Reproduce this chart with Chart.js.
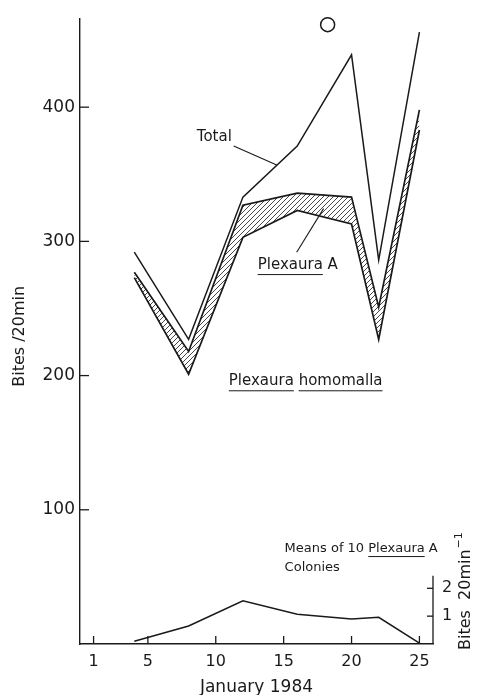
<!DOCTYPE html>
<html>
<head>
<meta charset="utf-8">
<script src="https://cdn.jsdelivr.net/npm/chart.js@4/dist/chart.umd.min.js"></script>
<style>
  html, body { margin: 0; padding: 0; background: #fff; }
  #wrap { width: 477px; height: 695px; position: relative; }
</style>
</head>
<body>
<div id="wrap"><canvas id="c"></canvas></div>
<script>
// Sampling days in January 1984
const days = [4, 8, 12, 16, 20, 22, 25];
// Total bites per 20 min
const totalBites = [292, 227, 333, 371, 439, 286, 456];
// Bites on Plexaura homomalla (lower edge of the hatched band)
const homomallaBites = [273, 201, 303, 323, 313, 227, 383];
// Upper edge of the hatched band (adding bites on Plexaura A)
const plexauraATop = [277, 218, 327, 336, 333, 251, 398];
// Means of 10 Plexaura A colonies, bites per 20 min
const meanBitesA = [0.1, 0.65, 1.55, 1.07, 0.9, 0.96, 0.03];
// Axis tick values
const dayTicks = [1, 5, 10, 15, 20, 25];
const biteTicks = [100, 200, 300, 400];
const meanTicks = [1, 2];

const FONT = "'DejaVu Sans', sans-serif";
const INK = '#1a1a1a';

function pts(ys) { return days.map((d, i) => ({ x: d, y: ys[i] })); }

function hatchPattern() {
  const s = 5;
  const c = document.createElement('canvas');
  c.width = s; c.height = s;
  const g = c.getContext('2d');
  g.strokeStyle = '#333';
  g.lineWidth = 0.9;
  g.beginPath();
  g.moveTo(0, s); g.lineTo(s, 0);
  g.moveTo(-1, 1); g.lineTo(1, -1);
  g.moveTo(s - 1, s + 1); g.lineTo(s + 1, s - 1);
  g.stroke();
  return g.createPattern(c, 'repeat');
}

const decorations = {
  id: 'decorations',
  afterDraw(chart) {
    const { ctx, chartArea: a, scales: { x, y, y2 } } = chart;
    const X = d => x.getPixelForValue(d);
    const Y = v => y.getPixelForValue(v);
    const Y2 = v => y2.getPixelForValue(v);
    ctx.save();
    ctx.strokeStyle = INK;
    ctx.fillStyle = INK;
    ctx.lineWidth = 1.3;

    // inward tick marks on the left axis
    biteTicks.forEach(v => {
      ctx.beginPath(); ctx.moveTo(a.left, Y(v)); ctx.lineTo(a.left + 9, Y(v)); ctx.stroke();
    });
    // inward tick marks on the day axis
    dayTicks.forEach(d => {
      ctx.beginPath(); ctx.moveTo(X(d), a.bottom); ctx.lineTo(X(d), a.bottom - 8); ctx.stroke();
    });
    // short right-hand axis for the colony means
    ctx.beginPath(); ctx.moveTo(a.right, Y2(0)); ctx.lineTo(a.right, Y2(2.45)); ctx.stroke();
    meanTicks.forEach(v => {
      ctx.beginPath(); ctx.moveTo(a.right, Y2(v)); ctx.lineTo(a.right - 6, Y2(v)); ctx.stroke();
    });

    // panel marker
    ctx.lineWidth = 1.5;
    ctx.beginPath(); ctx.arc(X(18.24), Y(461.5), 7, 0, Math.PI * 2); ctx.stroke();

    // leader lines
    ctx.lineWidth = 1.1;
    ctx.beginPath(); ctx.moveTo(X(11.32), Y(371.1)); ctx.lineTo(X(14.49), Y(357)); ctx.stroke();
    ctx.beginPath(); ctx.moveTo(X(15.96), Y(291.9)); ctx.lineTo(X(17.94), Y(324.4)); ctx.stroke();

    ctx.textBaseline = 'middle';
    ctx.textAlign = 'left';
    const underline = (x0, yMid, word, size) => {
      const w = ctx.measureText(word).width;
      ctx.lineWidth = 1;
      ctx.beginPath(); ctx.moveTo(x0, yMid + size * 0.62); ctx.lineTo(x0 + w, yMid + size * 0.62); ctx.stroke();
      return w;
    };

    // annotations
    ctx.font = `15px ${FONT}`;
    ctx.fillText('Total', X(8.6), Y(377.8));

    let tx = X(13.09), ty = Y(282.2);
    ctx.fillText('Plexaura A', tx, ty);
    underline(tx, ty, 'Plexaura', 15);

    tx = X(10.96); ty = Y(195.6);
    ctx.fillText('Plexaura homomalla', tx, ty);
    underline(tx, ty, 'Plexaura', 15);
    const off = ctx.measureText('Plexaura ').width;
    underline(tx + off, ty, 'homomalla', 15);

    ctx.font = `13px ${FONT}`;
    tx = X(15.07); ty = Y2(3.43);
    const pre = 'Means of 10 ';
    ctx.fillText(pre + 'Plexaura A', tx, ty);
    underline(tx + ctx.measureText(pre).width, ty, 'Plexaura', 13);
    ctx.fillText('Colonies', tx, Y2(2.75));

    // rotated axis titles
    ctx.save();
    ctx.translate(a.left - 60, (a.top + a.bottom) / 2 + 5);
    ctx.rotate(-Math.PI / 2);
    ctx.textAlign = 'center';
    ctx.font = `16px ${FONT}`;
    ctx.fillText('Bites /20min', 0, 0);
    ctx.restore();

    ctx.save();
    ctx.translate(a.right + 33, a.bottom + 6);
    ctx.rotate(-Math.PI / 2);
    ctx.textAlign = 'left';
    ctx.font = `16px ${FONT}`;
    ctx.fillText('Bites  20min', 0, 0);
    const w = ctx.measureText('Bites  20min').width;
    ctx.font = `11px ${FONT}`;
    ctx.fillText('\u22121', w + 1, -7);
    ctx.restore();

    ctx.restore();
  }
};

const lineStyle = { pointRadius: 0, tension: 0, borderColor: INK, borderJoinStyle: 'miter' };

new Chart(document.getElementById('c'), {
  type: 'line',
  data: {
    datasets: [
      { label: 'Plexaura homomalla', data: pts(homomallaBites), yAxisID: 'y', borderWidth: 1.7, fill: false, ...lineStyle },
      { label: 'Plexaura A', data: pts(plexauraATop), yAxisID: 'y', borderWidth: 1.7, fill: '-1', backgroundColor: hatchPattern(), ...lineStyle },
      { label: 'Total', data: pts(totalBites), yAxisID: 'y', borderWidth: 1.5, fill: false, ...lineStyle },
      { label: 'Means of 10 Plexaura A colonies', data: pts(meanBitesA), yAxisID: 'y2', borderWidth: 1.6, fill: false, ...lineStyle }
    ]
  },
  options: {
    responsive: true,
    maintainAspectRatio: false,
    animation: false,
    devicePixelRatio: 1,
    layout: { padding: { top: 15, left: 0, right: 0, bottom: 0 } },
    plugins: { legend: { display: false }, tooltip: { enabled: false } },
    scales: {
      x: {
        type: 'linear', min: 0, max: 26,
        afterBuildTicks: s => { s.ticks = dayTicks.map(v => ({ value: v })); },
        afterFit: s => { s.height = 51; },
        grid: { display: false, drawTicks: false },
        border: { display: true, color: INK, width: 1.4 },
        ticks: { color: INK, font: { family: FONT, size: 16 }, padding: 8, maxRotation: 0 },
        title: { display: true, text: 'January 1984', color: INK, font: { family: FONT, size: 17 }, padding: { top: 5, bottom: -3 } }
      },
      y: {
        type: 'linear', position: 'left', min: 0, max: 466,
        afterBuildTicks: s => { s.ticks = biteTicks.map(v => ({ value: v })); },
        afterFit: s => { s.width = 80; },
        grid: { display: false, drawTicks: false },
        border: { display: true, color: INK, width: 1.4 },
        ticks: { color: INK, font: { family: FONT, size: 17 }, padding: 5 }
      },
      y2: {
        type: 'linear', position: 'right', min: 0, max: 22.46,
        afterBuildTicks: s => { s.ticks = meanTicks.map(v => ({ value: v })); },
        afterFit: s => { s.width = 44; },
        grid: { display: false, drawTicks: false },
        border: { display: false },
        ticks: { color: INK, font: { family: FONT, size: 16 }, padding: 9 }
      }
    }
  },
  plugins: [decorations]
});
</script>
</body>
</html>
